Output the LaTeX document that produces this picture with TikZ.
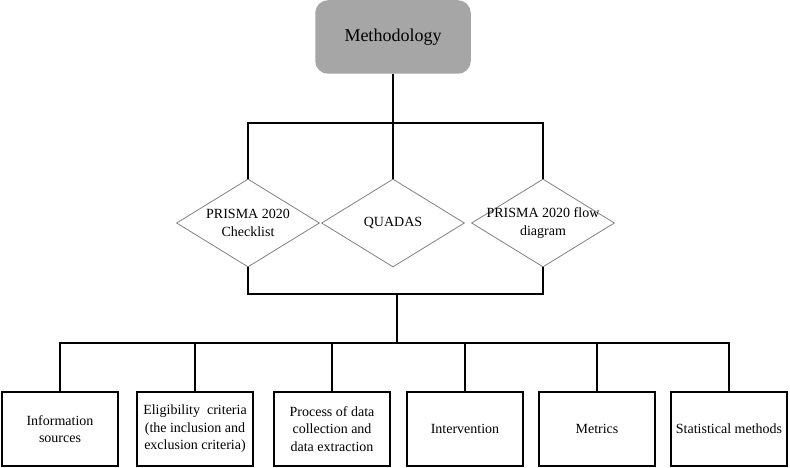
\documentclass[tikz,border=0pt]{standalone}
\usepackage{fontspec}
\setmainfont{Liberation Serif}
\usetikzlibrary{shapes.geometric, positioning, calc}
\definecolor{headgray}{RGB}{166,166,166}

\begin{document}
\begin{tikzpicture}[x=1pt,y=-1pt,line width=1.5pt,font=\fontsize{14}{17.5}\selectfont]
	\tikzset{
		head/.style={rectangle, rounded corners=12pt, fill=headgray, draw=headgray, minimum width=154pt, minimum height=72pt, font=\fontsize{18}{22}\selectfont},
		choice/.style={diamond, draw=gray, line width=0.8pt, minimum width=143pt, minimum height=88pt, inner sep=0pt},
		item/.style={rectangle, draw, line width=1.5pt, minimum width=116pt, minimum height=74pt, align=center}
	}
	\useasboundingbox (0,0) rectangle (790,468);
	\node[head] (meth) at (393,37) {Methodology};
	% tools
	\node[choice] (d1) at (248,223) {};
	\node[choice] (d2) at (393,223) {};
	\node[choice] (d3) at (543,223) {};
	\node[align=center] at (d1) {PRISMA 2020\\Checklist};
	\node[align=center] at (d2) {QUADAS};
	\node[align=center] at (d3) {PRISMA 2020 flow\\diagram};
	% items
	\node[item] (b1) at (60,429) {Information\\sources};
	\node[item] (b2) at (195,429) {Eligibility \ criteria\\(the inclusion and\\exclusion criteria)};
	\node[item] (b3) at (332,429) {Process of data\\collection and\\data extraction};
	\node[item] (b4) at (465,429) {Intervention};
	\node[item] (b5) at (597,429) {Metrics};
	\node[item] (b6) at (729,429) {Statistical methods};
	\coordinate (topbar) at (393,123);
	\coordinate (midbar) at (397,294);
	\coordinate (lowbar) at (397,343);
	\draw (meth.south) -- (topbar);
	\draw (d1.north) |- (topbar) -| (d3.north);
	\draw (d2.north) -- (topbar);
	\draw (d1.south) |- (midbar) -| (d3.south);
	\draw (midbar) -- (lowbar);
	\draw (b1.north) |- (lowbar) -| (b6.north);
	\foreach \b in {b2,b3,b4,b5}
		\draw (\b.north) -- (\b.north |- lowbar);
\end{tikzpicture}
\end{document}
